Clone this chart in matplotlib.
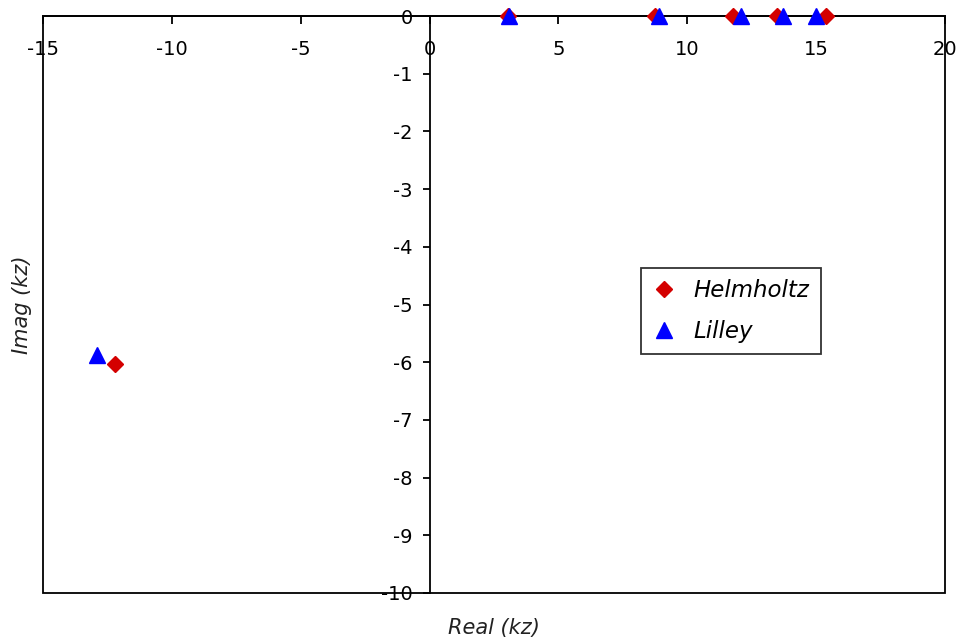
import numpy as np
import matplotlib
matplotlib.use("Agg")
import matplotlib.pyplot as plt
from matplotlib.patches import Rectangle

# 数据：复平面上的根 (Real, Imag)
helm_re = [-12.22, 3.03, 8.73, 11.76, 13.50, 15.37]
helm_im = [-6.03, 0, 0, 0, 0, 0]
lil_re = [-12.92, 3.10, 8.90, 12.10, 13.70, 14.98]
lil_im = [-5.88, 0, 0, 0, 0, 0]

xticks = np.arange(-15, 21, 5)
yticks = np.arange(-10, 1, 1)

plt.rcParams['font.family'] = ['DejaVu Sans']
plt.rcParams['axes.unicode_minus'] = False  # 用普通连字符
fig = plt.figure(figsize=(9.64, 6.41), dpi=100)
ax = fig.add_axes([43/964, 1-593/641, (945-43)/964, (593-16)/641])

ax.plot(helm_re, helm_im, linestyle='none', marker='D', markersize=8,
        color='#d40000', label='Helmholtz', clip_on=False, zorder=5)
ax.plot(lil_re, lil_im, linestyle='none', marker='^', markersize=12,
        color='#0000ff', label='Lilley', clip_on=False, zorder=6)

ax.set_xlim(-15, 20)
ax.set_ylim(-10, 0)

# 坐标轴穿过原点
ax.spines['left'].set_position(('data', 0))
ax.spines['bottom'].set_position(('data', 0))
for s in ['top', 'right']:
    ax.spines[s].set_visible(False)
for s in ['left', 'bottom']:
    ax.spines[s].set_linewidth(1.3)
# 外框
ax.add_patch(Rectangle((0, 0), 1, 1, transform=ax.transAxes, fill=False,
                       edgecolor='black', linewidth=1.3, clip_on=False, zorder=3))

ax.set_xticks(xticks)
ax.set_yticks(yticks)
ax.tick_params(axis='x', direction='out', length=6, width=1.3, pad=11, labelsize=14)
ax.tick_params(axis='y', direction='out', length=5, width=1.3, pad=7, labelsize=14)

ax.text(0.5, -(628-593)/577, 'Real (kz)', transform=ax.transAxes, ha='center', va='center',
        fontsize=15, style='italic', color='#222222')
ax.text(-(43-22)/902, 0.5, 'Imag (kz)', transform=ax.transAxes, ha='center', va='center',
        rotation=90, fontsize=15, style='italic', color='#222222')

leg = ax.legend(loc='upper left', bbox_to_anchor=((641-43)/902, 1-(268-16)/577),
                prop={'style': 'italic', 'size': 16.5}, frameon=True,
                fancybox=False, edgecolor='black', handletextpad=0.8,
                borderpad=0.5, labelspacing=0.75, handlelength=1.0,
                borderaxespad=0)
leg.get_frame().set_linewidth(1.3)

fig.savefig("out.png", dpi=100)
